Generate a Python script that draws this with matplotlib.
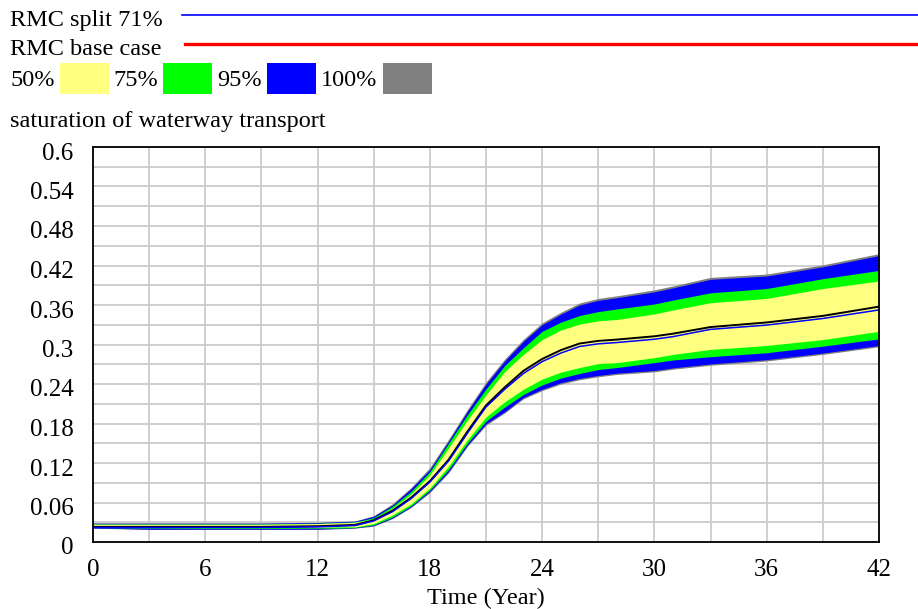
import matplotlib
matplotlib.use("Agg")
import matplotlib.pyplot as plt
from matplotlib.lines import Line2D
from matplotlib.patches import Rectangle
from matplotlib.transforms import ScaledTranslation

plt.rcParams['font.family'] = ['Liberation Serif', 'DejaVu Serif']

# simulation time (years)
years = [0, 3, 6, 9, 12, 13, 14, 15, 16, 17, 18, 19, 20, 21, 22, 23, 24, 25, 26,
         27, 28, 30, 31, 33, 36, 39, 42]

# sensitivity bounds
hi100 = [0.029, 0.029, 0.029, 0.029, 0.030, 0.031, 0.032, 0.040, 0.058, 0.083, 0.113, 0.156, 0.201,
         0.243, 0.278, 0.308, 0.333, 0.349, 0.363, 0.370, 0.374, 0.383, 0.389, 0.402, 0.407, 0.421, 0.438]
hi95 = [0.0285, 0.0285, 0.0285, 0.0285, 0.0295, 0.0305, 0.0315, 0.039, 0.056, 0.081, 0.110, 0.153, 0.198,
        0.240, 0.275, 0.305, 0.330, 0.346, 0.360, 0.367, 0.371, 0.380, 0.386, 0.399, 0.404, 0.418, 0.435]
hi75 = [0.0275, 0.0275, 0.0275, 0.0275, 0.0285, 0.0295, 0.0305, 0.037, 0.054, 0.077, 0.107, 0.150, 0.193,
        0.2325, 0.268, 0.295, 0.320, 0.334, 0.344, 0.350, 0.354, 0.3615, 0.3675, 0.3785, 0.385, 0.400, 0.4125]
hi50 = [0.027, 0.027, 0.027, 0.027, 0.028, 0.029, 0.030, 0.035, 0.051, 0.073, 0.102, 0.143, 0.185,
        0.2235, 0.259, 0.285, 0.3075, 0.322, 0.331, 0.336, 0.338, 0.3465, 0.3525, 0.3635, 0.370, 0.385, 0.3965]
lo50 = [0.023, 0.022, 0.022, 0.022, 0.022, 0.023, 0.023, 0.028, 0.041, 0.058, 0.082, 0.115, 0.155,
        0.190, 0.213, 0.232, 0.2475, 0.258, 0.265, 0.271, 0.2725, 0.280, 0.285, 0.2925, 0.2985, 0.3075, 0.320]
lo75 = [0.022, 0.021, 0.0205, 0.0205, 0.021, 0.021, 0.022, 0.026, 0.038, 0.055, 0.079, 0.110, 0.150,
        0.1835, 0.205, 0.224, 0.2385, 0.249, 0.256, 0.262, 0.265, 0.2725, 0.2765, 0.2815, 0.2875, 0.2975, 0.3085]
lo95 = [0.0215, 0.0195, 0.0195, 0.0195, 0.0195, 0.0205, 0.0215, 0.025, 0.0365, 0.0535, 0.077, 0.107, 0.147,
        0.1795, 0.198, 0.2195, 0.232, 0.242, 0.2485, 0.253, 0.2565, 0.2605, 0.2645, 0.2705, 0.277, 0.287, 0.2985]
lo100 = [0.021, 0.019, 0.019, 0.019, 0.019, 0.020, 0.021, 0.024, 0.0355, 0.0525, 0.075, 0.105, 0.145,
         0.1775, 0.196, 0.2175, 0.230, 0.240, 0.2465, 0.251, 0.2545, 0.2585, 0.2625, 0.2685, 0.275, 0.285, 0.2965]

# single runs
base_line = [0.023, 0.023, 0.023, 0.023, 0.024, 0.025, 0.026, 0.033, 0.0475, 0.0675, 0.0925, 0.125, 0.1675,
             0.2075, 0.235, 0.260, 0.278, 0.2915, 0.3015, 0.3055, 0.3075, 0.3125, 0.3165, 0.3265, 0.3335, 0.3435, 0.3575]
split71 = [0.022, 0.022, 0.022, 0.022, 0.023, 0.024, 0.025, 0.032, 0.046, 0.066, 0.091, 0.123, 0.165,
           0.205, 0.232, 0.256, 0.274, 0.287, 0.297, 0.301, 0.303, 0.308, 0.312, 0.323, 0.3295, 0.3395, 0.3525]

y_ticks = [0, 0.06, 0.12, 0.18, 0.24, 0.3, 0.36, 0.42, 0.48, 0.54, 0.6]
y_tick_labels = ['0', '0.06', '0.12', '0.18', '0.24', '0.3', '0.36', '0.42', '0.48', '0.54', '0.6']
x_ticks = [0, 6, 12, 18, 24, 30, 36, 42]

W, H = 918, 609
fig = plt.figure(figsize=(W / 100, H / 100), dpi=100)

def fx(px):
    return px / W

def fy(py):
    return 1 - py / H

fs = 17.5
tfs = 18

# legend block at the top
fig.text(fx(10), fy(26), 'RMC split 71%', fontsize=fs, va='baseline')
fig.add_artist(Line2D([fx(182), fx(918)], [fy(15), fy(15)], color='#0000ff', lw=1.2))
fig.text(fx(10), fy(55), 'RMC base case', fontsize=fs, va='baseline')
fig.add_artist(Line2D([fx(185), fx(918)], [fy(44), fy(44)], color='#ff0000', lw=2.4))

band_labels = ['50%', '75%', '95%', '100%']
band_colors = ['#ffff80', '#00ff00', '#0000ff', '#808080']
label_x = [10, 113, 217, 321]
patch_x = [60, 163, 267, 383]
for lab, col, lx, px in zip(band_labels, band_colors, label_x, patch_x):
    fig.text(fx(lx), fy(86), lab, fontsize=fs, va='baseline')
    fig.add_artist(Rectangle((fx(px), fy(94)), fx(49), 31 / H, color=col, lw=0))

fig.text(fx(10), fy(127), 'saturation of waterway transport', fontsize=fs, va='baseline')

# main plot
ax = fig.add_axes([fx(93), fy(542), fx(879 - 93), (542 - 147) / H])
ax.fill_between(years, lo100, hi100, color=band_colors[3], lw=0)
ax.fill_between(years, lo95, hi95, color=band_colors[2], lw=0)
ax.fill_between(years, lo75, hi75, color=band_colors[1], lw=0)
ax.fill_between(years, lo50, hi50, color=band_colors[0], lw=0)
ax.plot(years, base_line, color='black', lw=1.4)
ax.plot(years, split71, color='#0000ff', lw=1.1)

ax.set_xlim(0, 42)
ax.set_ylim(0, 0.6)
ax.set_xticks(x_ticks)
ax.set_yticks(y_ticks)
ax.set_yticklabels(y_tick_labels)
ax.xaxis.set_minor_locator(matplotlib.ticker.MultipleLocator(3))
ax.yaxis.set_minor_locator(matplotlib.ticker.MultipleLocator(0.03))
ax.grid(True, which='both', color='#cccccc', lw=1.3)
ax.set_axisbelow(True)
ax.tick_params(which='both', length=0, labelsize=tfs)
ax.tick_params(axis='y', pad=14)
ax.tick_params(axis='x', pad=12)
shift = ScaledTranslation(0, -4 / 100, fig.dpi_scale_trans)
for lab in ax.get_yticklabels():
    lab.set_transform(lab.get_transform() + shift)
for s in ax.spines.values():
    s.set_linewidth(1.3)
ax.set_xlabel('Time (Year)', fontsize=fs, labelpad=5)

fig.savefig('out.png', dpi=100)
